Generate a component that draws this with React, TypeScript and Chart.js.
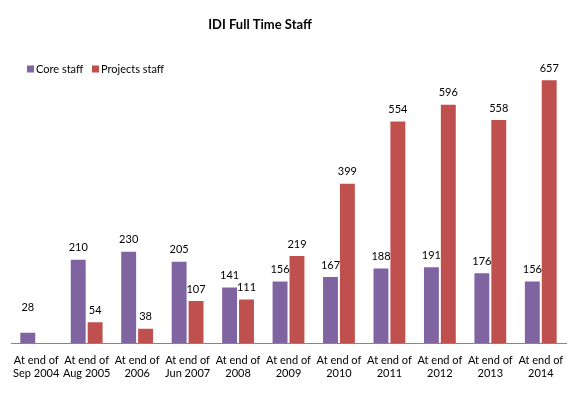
import React, { useEffect, useRef } from "react";
import { Chart, registerables } from "chart.js";

Chart.register(...registerables);

const title = "IDI Full Time Staff";
const categories: string[][] = [
  ["At end of", "Sep 2004"],
  ["At end of", "Aug 2005"],
  ["At end of", "2006"],
  ["At end of", "Jun 2007"],
  ["At end of", "2008"],
  ["At end of", "2009"],
  ["At end of", "2010"],
  ["At end of", "2011"],
  ["At end of", "2012"],
  ["At end of", "2013"],
  ["At end of", "2014"],
];
const coreStaff = [28, 210, 230, 205, 141, 156, 167, 188, 191, 176, 156];
const projectsStaff: (number | null)[] = [null, 54, 38, 107, 111, 219, 399, 554, 596, 558, 657];
const seriesNames = ["Core staff", "Projects staff"];
const seriesColors = ["#8064A2", "#C0504D"];
const coreLabelExtra = [13, 0, 0, 0, 0, 0, 0, 0, 0, 0, 0];

const FONT = "Lato, 'Open Sans', sans-serif";

const overlayPlugin = {
  id: "overlay",
  afterDatasetsDraw(chart: any) {
    const ctx = chart.ctx as CanvasRenderingContext2D;
    ctx.save();
    // data labels
    ctx.font = `11px ${FONT}`;
    ctx.fillStyle = "#000";
    ctx.textAlign = "center";
    ctx.textBaseline = "middle";
    chart.data.datasets.forEach((ds: any, di: number) => {
      const meta = chart.getDatasetMeta(di);
      meta.data.forEach((el: any, i: number) => {
        const v = ds.data[i];
        if (v === null || v === undefined) return;
        const extra = di === 0 ? coreLabelExtra[i] : 0;
        ctx.fillText(String(v), el.x, el.y - 11 - extra);
      });
    });
    // title
    ctx.font = `bold 13px ${FONT}`;
    ctx.fillText(title, 260, 25);
    // legend
    ctx.font = `11px ${FONT}`;
    ctx.textAlign = "left";
    const legendX = [27, 92];
    seriesNames.forEach((name, i) => {
      ctx.fillStyle = seriesColors[i];
      ctx.fillRect(legendX[i], 65.5, 7, 7);
      ctx.fillStyle = "#000";
      ctx.fillText(name, legendX[i] + 9, 69.5);
    });
    ctx.restore();
  },
};

export default function App() {
  const ref = useRef<HTMLCanvasElement | null>(null);
  useEffect(() => {
    if (!ref.current) return;
    const chart = new Chart(ref.current, {
      type: "bar",
      data: {
        labels: categories,
        datasets: [
          {
            label: seriesNames[0],
            data: coreStaff,
            backgroundColor: seriesColors[0],
            borderColor: "rgba(255,255,255,0.25)",
            borderWidth: 1,
            categoryPercentage: 0.67,
            barPercentage: 1,
          },
          {
            label: seriesNames[1],
            data: projectsStaff,
            backgroundColor: seriesColors[1],
            borderColor: "rgba(255,255,255,0.25)",
            borderWidth: 1,
            categoryPercentage: 0.67,
            barPercentage: 1,
          },
        ],
      },
      options: {
        responsive: false,
        animation: false,
        layout: { padding: { left: 11, right: 10, top: 62, bottom: 0 } },
        plugins: {
          legend: { display: false },
          title: { display: false },
          tooltip: { enabled: false },
        },
        scales: {
          x: {
            grid: { display: false, drawTicks: false },
            border: { display: true, color: "#868686", width: 1 },
            ticks: {
              color: "#000",
              font: { family: FONT, size: 11, lineHeight: 1.2 },
              padding: 11,
              maxRotation: 0,
              autoSkip: false,
            },
            afterFit: (scale: any) => {
              scale.height = 53;
            },
          },
          y: {
            display: false,
            min: 0,
            max: 700,
          },
        },
      },
      plugins: [overlayPlugin],
    });
    return () => chart.destroy();
  }, []);
  return (
    <div style={{ position: "fixed", left: 0, top: 0, width: 576, height: 396, background: "#fff" }}>
      <canvas ref={ref} width={576} height={396} />
    </div>
  );
}
